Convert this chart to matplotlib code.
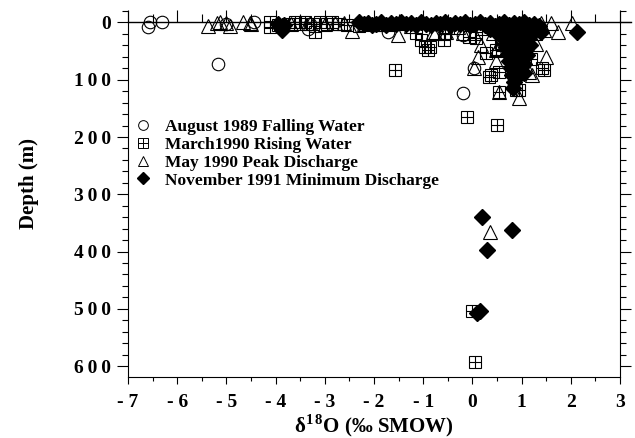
import matplotlib
matplotlib.use("Agg")
from matplotlib import pyplot as plt
from matplotlib.lines import Line2D
from matplotlib.legend_handler import HandlerTuple
from matplotlib.ticker import MultipleLocator, FixedLocator

plt.rcParams['font.family'] = ['Liberation Serif', 'DejaVu Serif']
plt.rcParams['font.weight'] = 'bold'
plt.rcParams['mathtext.fontset'] = 'custom'
plt.rcParams['mathtext.rm'] = 'Liberation Serif:bold'
plt.rcParams['mathtext.bf'] = 'Liberation Serif:bold'

# August 1989 Falling Water
aug89_x = [-6.55, -6.30, -6.59, -5.17, -5.00, -4.44, -3.34, -3.30, -1.72, -0.20, -0.20, 0.04]
aug89_d = [0, 0, 8, 73, 2, 0, 12, 2, 16, 22, 124, 80]

# March 1990 Rising Water
mar90_x = [-4.12, -4.12, -3.95, -3.75, -3.60, -3.50, -3.40, -3.25, -3.10, -2.95, -2.85, -2.74,
           -3.20, -2.55, -2.30, -1.90, -1.50, -1.14, -1.04, -0.97, -0.87, -0.91, -0.57, -0.55,
           -0.06, 0.07, -1.58, 0.38, 0.55, 0.48, 0.61, 1.19, 1.42, 0.55, 0.95, -0.10, 0.51,
           0.27, 0.58, 1.46, 0.34, 0.88, 1.30, 1.15, -0.50, 0.20, 0.00, 0.05]
mar90_d = [0, 8, 4, 2, 0, 3, 0, 2, 0, 3, 0, 2,
           16, 4, 6, 5, 3, 19, 30, 42, 42, 48, 30, 19,
           25, 28, 83, 92, 86, 48, 39, 63, 80, 121, 118, 165, 179,
           54, 36, 83, 95, 118, 20, 10, 10, 12, 503, 592]

# May 1990 Peak Discharge
may90_x = [-5.37, -5.20, -5.13, -5.00, -4.93, -4.66, -4.49, -4.53, -3.68, -3.31, -3.00, -2.80,
           -2.61, -2.45, -2.20, -1.52, -1.25, -0.81, -0.54, -0.77, -0.20, 0.04, 0.17, 0.41,
           0.51, 0.11, 0.04, 0.48, 0.48, 1.29, 1.49, 1.22, 0.95, 0.55, 1.39, 1.60, 1.73,
           2.03, 1.46, 1.15, -1.90, -1.70, -0.30, 0.75, 0.35]
may90_d = [7, 1, 0, 1, 7, 0, 2, 1, 2, 1, 3, 1,
           1, 15, 2, 22, 6, 16, 17, 19, 19, 19, 40, 19,
           45, 61, 80, 68, 48, 37, 60, 92, 132, 121, 1, 1, 16,
           1, 13, 86, 3, 2, 8, 30, 365]

# November 1991 Minimum Discharge
nov91_x = [-3.95, -3.92, -3.88, -3.82, -2.30, -2.20, -2.12, -2.05, -1.95, -1.85, -1.75, -1.65,
           -1.55, -1.45, -1.35, -1.25, -1.15, -1.05, -0.95, -0.85, -0.75, -0.65, -0.55, -0.45,
           -0.35, -0.25, -0.15, -0.05, 0.05, 0.15, 0.25, 0.35, 0.45, 0.55, 0.65, 0.75, 0.85,
           0.95, 1.05, 1.15, 1.25, 1.35, 1.39, 2.13,
           0.35, 0.45, 0.55, 0.65, 0.75, 0.85, 0.95, 1.05, 1.15, 1.20, 0.60, 0.70, 0.80,
           0.90, 1.00, 1.10, 1.18, 0.68, 0.78, 0.88, 0.98, 1.08, 0.72, 0.82, 0.92, 1.02,
           1.10, 0.75, 0.85, 0.95, 1.05, 0.78, 0.88, 0.98, 1.04, 0.80, 0.90, 0.85, 0.82,
           0.20, 0.80, 0.30, 0.10, 0.15]
nov91_d = [2, 8, 13, 4, 0, 3, 1, 5, 2, 0, 4, 1,
           3, 0, 2, 1, 4, 0, 2, 5, 1, 3, 0, 4,
           1, 3, 0, 5, 2, 0, 4, 1, 6, 2, 0, 4, 1,
           3, 0, 5, 2, 6, 16, 16,
           12, 15, 10, 18, 12, 20, 14, 18, 12, 20, 25, 30, 26,
           33, 28, 35, 40, 42, 45, 40, 48, 46, 55, 58, 52, 60,
           56, 68, 70, 66, 72, 80, 84, 78, 88, 92, 96, 104, 115,
           340, 362, 397, 507, 503]

labels = ["August 1989 Falling Water", "March1990 Rising Water",
          "May 1990 Peak Discharge", "November 1991 Minimum Discharge"]

y_ticks = [0, 100, 200, 300, 400, 500, 600]
x_ticks = [-7, -6, -5, -4, -3, -2, -1, 0, 1, 2, 3]

fig = plt.figure(figsize=(6.35, 4.38), dpi=100)
ax = fig.add_axes([128 / 635, 1 - 377 / 438, 492 / 635, 366 / 438])

ms = 9
ax.plot(aug89_x, aug89_d, 'o', ms=ms, mfc='none', mec='black', mew=0.8, ls='none')
ax.plot(mar90_x, mar90_d, 's', ms=ms, mfc='none', mec='black', mew=0.8, ls='none')
ax.plot(mar90_x, mar90_d, '+', ms=ms, mec='black', mew=0.8, ls='none')
ax.plot(may90_x, may90_d, '^', ms=ms + 1, mfc='none', mec='black', mew=0.8, ls='none')
ax.plot(nov91_x, nov91_d, 'D', ms=ms - 1, mfc='black', mec='black', ls='none')

ax.set_xlim(-7, 3)
ax.set_ylim(619, -20)

# surface line at depth 0 with top ticks
ax.spines['top'].set_visible(False)
for s in ['left', 'right', 'bottom']:
    ax.spines[s].set_linewidth(0.8)
sec = ax.secondary_xaxis(1 - 20 / 639)
sec.spines['top'].set_linewidth(1.0)
sec.xaxis.set_major_locator(MultipleLocator(1))
sec.xaxis.set_minor_locator(MultipleLocator(0.5))
sec.tick_params(axis='x', which='major', direction='out', length=8.5, width=0.8, labeltop=False)
sec.tick_params(axis='x', which='minor', direction='out', length=6, width=0.8)
ax.plot([3, 3.22], [0, 0], color='black', lw=1.0, clip_on=False)

ax.xaxis.set_major_locator(FixedLocator(x_ticks))
ax.set_xticklabels([("- %d" % -v) if v < 0 else str(v) for v in x_ticks])
ax.xaxis.set_minor_locator(MultipleLocator(0.5))
ax.tick_params(axis='x', which='major', direction='out', length=5, width=0.8, labelsize=14, pad=7)
ax.tick_params(axis='x', which='minor', direction='out', length=3, width=0.8)

ax.yaxis.set_major_locator(FixedLocator(y_ticks))
ax.set_yticklabels(["\u2009".join(str(v)) for v in y_ticks])
ax.yaxis.set_minor_locator(MultipleLocator(20))
ax.tick_params(axis='y', which='major', direction='out', length=8, width=0.8, labelsize=14,
               right=True, pad=4)
ax.tick_params(axis='y', which='minor', direction='out', length=4, width=0.8, right=True)

ax.set_xlabel(r"δ$^{\mathbf{1\,8}}$O (‰ SMOW)", fontsize=15, fontweight='bold', labelpad=1)
ax.set_ylabel("Depth (m)", fontsize=15, fontweight='bold')
ax.yaxis.set_label_coords(-0.18, 0.53)

h_circ = Line2D([], [], marker='o', ms=7, mfc='none', mec='black', mew=0.7, ls='none')
h_sq = Line2D([], [], marker='s', ms=7, mfc='none', mec='black', mew=0.7, ls='none')
h_pl = Line2D([], [], marker='+', ms=7, mec='black', mew=0.7, ls='none')
h_tri = Line2D([], [], marker='^', ms=7, mfc='none', mec='black', mew=0.7, ls='none')
h_dia = Line2D([], [], marker='D', ms=6, mfc='black', mec='black', ls='none')
ax.legend([h_circ, (h_sq, h_pl), h_tri, h_dia], labels,
          handler_map={tuple: HandlerTuple(ndivide=1)},
          loc='upper left', bbox_to_anchor=(-0.005, 0.728), frameon=False,
          prop={'family': 'Liberation Serif', 'weight': 'bold', 'size': 12.5},
          handlelength=1.0, handletextpad=0.8, labelspacing=0.09, borderpad=0)

fig.savefig("out.png", dpi=100)
